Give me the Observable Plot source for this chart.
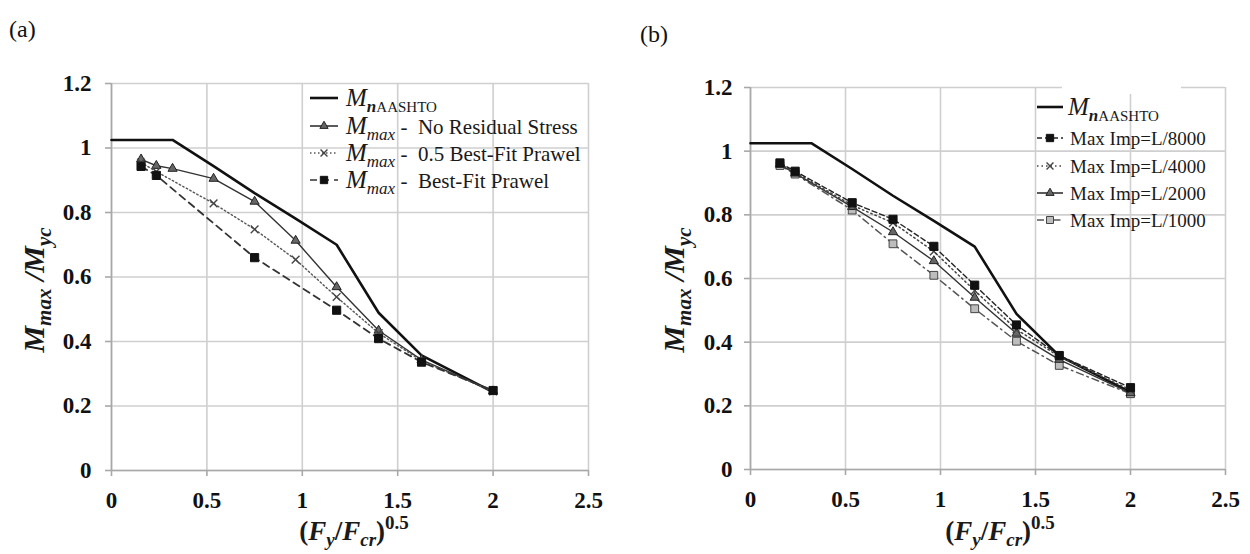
<!DOCTYPE html>
<html><head><meta charset="utf-8">
<script src="https://cdn.jsdelivr.net/npm/d3@7"></script>
<script src="https://cdn.jsdelivr.net/npm/@observablehq/plot@0.6"></script>
<style>
body{margin:0;background:#fff;}
#wrap{position:relative;width:1250px;height:554px;overflow:hidden;background:#fff;}
#wrap svg{position:absolute;top:0;}
</style></head><body><div id="wrap"></div>
<script>
// ---------- data ----------
const xTicks = [0, 0.5, 1, 1.5, 2, 2.5];
const xTickLabels = ["0", "0.5", "1", "1.5", "2", "2.5"];
const yTicks = [0, 0.2, 0.4, 0.6, 0.8, 1, 1.2];
const yTickLabels = ["0", "0.2", "0.4", "0.6", "0.8", "1", "1.2"];

const aashtoX = [0, 0.32, 0.535, 0.75, 0.965, 1.18, 1.4, 1.625, 2.0];
const aashtoY = [1.025, 1.025, 0.944, 0.86, 0.781, 0.70, 0.489, 0.357, 0.243];

// panel (a)
const noResidualX = [0.155, 0.235, 0.32, 0.535, 0.75, 0.965, 1.18, 1.4, 1.625, 2.0];
const noResidualY = [0.965, 0.945, 0.936, 0.905, 0.834, 0.713, 0.569, 0.434, 0.343, 0.246];
const halfBFPX = [0.155, 0.235, 0.535, 0.75, 0.965, 1.18, 1.4, 1.625, 2.0];
const halfBFPY = [0.955, 0.927, 0.828, 0.748, 0.654, 0.538, 0.426, 0.34, 0.245];
const bfpX = [0.155, 0.235, 0.75, 1.18, 1.4, 1.625, 2.0];
const bfpY = [0.943, 0.915, 0.66, 0.497, 0.409, 0.336, 0.248];

// panel (b)
const impX = [0.155, 0.235, 0.535, 0.75, 0.965, 1.18, 1.4, 1.625, 2.0];
const imp8000 = [0.963, 0.937, 0.838, 0.786, 0.701, 0.579, 0.454, 0.358, 0.257];
const imp4000 = [0.960, 0.933, 0.830, 0.775, 0.685, 0.562, 0.440, 0.355, 0.250];
const imp2000 = [0.958, 0.930, 0.825, 0.746, 0.655, 0.540, 0.427, 0.345, 0.240];
const imp1000 = [0.955, 0.928, 0.815, 0.709, 0.610, 0.505, 0.403, 0.327, 0.238];

const FONT = "'Liberation Serif','Times New Roman',Times,serif";

function table(xs, ys) { return xs.map((x, i) => ({x, y: ys[i]})); }

// series styles
const S = {
  aashto: {stroke: "#111", strokeWidth: 2.6},
  noRes: {stroke: "#333", strokeWidth: 1.4, symbol: "triangle", r: 3.4, fill: "#666", dstroke: "#222"},
  half: {stroke: "#555", strokeWidth: 1.4, dash: "1.5,2.5", symbol: "times", r: 3.6, fill: "none", dstroke: "#444"},
  bfp: {stroke: "#333", strokeWidth: 1.8, dash: "7,5", symbol: "square", r: 4.6, fill: "#111", dstroke: "#111"},
  i8000: {stroke: "#222", strokeWidth: 1.4, dash: "5,3", symbol: "square", r: 4.6, fill: "#111", dstroke: "#111"},
  i4000: {stroke: "#444", strokeWidth: 1.5, dash: "1.5,3", symbol: "times", r: 3.6, fill: "none", dstroke: "#444"},
  i2000: {stroke: "#333", strokeWidth: 1.4, symbol: "triangle", r: 3.4, fill: "#666", dstroke: "#222"},
  i1000: {stroke: "#555", strokeWidth: 1.5, dash: "7,4,1.5,4", symbol: "square", r: 4.4, fill: "#bdbdbd", dstroke: "#444"}
};

function seriesMarks(data, st) {
  const m = [Plot.line(data, {x: "x", y: "y", stroke: st.stroke, strokeWidth: st.strokeWidth,
    strokeDasharray: st.dash || null, curve: "linear"})];
  if (st.symbol) m.push(Plot.dot(data, {x: "x", y: "y", symbol: st.symbol, r: st.r,
    fill: st.fill, stroke: st.dstroke, strokeWidth: st.symbol === "times" ? 1.4 : 1}));
  return m;
}

function panel(m, series) {
  return Plot.plot({
    width: 625, height: 554,
    marginLeft: m.l, marginRight: m.r, marginTop: m.t, marginBottom: m.b,
    x: {domain: [0, 2.5]},
    y: {domain: [0, 1.2]},
    style: {fontFamily: FONT, background: "transparent", overflow: "visible"},
    marks: [
      Plot.gridX(xTicks, {stroke: "#cfcfcf", strokeOpacity: 1, strokeWidth: 1.6}),
      Plot.gridY(yTicks, {stroke: "#cfcfcf", strokeOpacity: 1, strokeWidth: 1.6}),
      Plot.ruleX([0], {stroke: "#a8a8a8", strokeWidth: 1.6}),
      Plot.ruleY([0], {stroke: "#a8a8a8", strokeWidth: 1.6}),
      Plot.axisX(xTicks, {tickSize: 6, tickPadding: 15, stroke: "#a8a8a8", strokeWidth: 1.6,
        tickFormat: d => xTickLabels[xTicks.indexOf(d)], label: null,
        fontSize: 23, fontWeight: "bold", fill: "#111", fontFamily: FONT}),
      Plot.axisY(yTicks, {tickSize: 6, tickPadding: m.yPad, stroke: "#a8a8a8", strokeWidth: 1.6,
        tickFormat: d => yTickLabels[yTicks.indexOf(d)], label: null,
        fontSize: 23, fontWeight: "bold", fill: "#111", fontFamily: FONT}),
      ...series
    ]
  });
}

// rich text helper
function rich(g, x, y, parts, opts = {}) {
  const t = g.append("text").attr("x", x).attr("y", y)
    .attr("font-family", FONT).attr("fill", opts.fill || "#1a1a1a")
    .attr("text-anchor", opts.anchor || "start");
  if (opts.transform) t.attr("transform", opts.transform);
  t.attr("font-weight", opts.weight || "normal");
  let shift = 0;
  for (const p of parts) {
    const s = t.append("tspan").text(p.t).attr("font-size", p.size)
      .attr("xml:space", "preserve");
    if (p.italic) s.attr("font-style", "italic");
    if (p.weight) s.attr("font-weight", p.weight);
    const want = p.dy || 0;
    if (want !== shift) { s.attr("dy", want - shift); shift = want; }
  }
  return t;
}

function symbolPath(sym, r) {
  const map = {triangle: d3.symbolTriangle, times: d3.symbolTimes, square: d3.symbolSquare};
  return d3.symbol(map[sym], Math.PI * r * r)();
}

function legendRow(g, x0, x1, y, st) {
  g.append("line").attr("x1", x0).attr("x2", x1).attr("y1", y).attr("y2", y)
    .attr("stroke", st.stroke).attr("stroke-width", st.strokeWidth === 2.6 ? 2.6 : 1.6)
    .attr("stroke-dasharray", st.dash || null);
  if (st.symbol) g.append("path").attr("d", symbolPath(st.symbol, st.r * 0.9))
    .attr("transform", `translate(${(x0 + x1) / 2},${y})`)
    .attr("fill", st.fill).attr("stroke", st.dstroke)
    .attr("stroke-width", st.symbol === "times" ? 1.4 : 1);
}

const Mparts = (sub) => [{t: "M", size: 25, italic: true}, {t: sub, size: 17, italic: true, dy: 6}];
const xTitle = [{t: "(", size: 27}, {t: "F", size: 27, italic: true}, {t: "y", size: 19, italic: true, dy: 6},
  {t: "/", size: 27, dy: 0}, {t: "F", size: 27, italic: true}, {t: "cr", size: 19, italic: true, dy: 6},
  {t: ")", size: 27, dy: 0}, {t: "0.5", size: 19, dy: -11}];
const yTitle = [{t: "M", size: 30, italic: true}, {t: "max", size: 21, italic: true, dy: 7},
  {t: " /", size: 30, italic: true, dy: 0}, {t: "M", size: 30, italic: true}, {t: "yc", size: 21, italic: true, dy: 7}];

// ---------- panel (a) ----------
const A = panel({l: 111, r: 37, t: 83, b: 84, yPad: 14}, [
  ...seriesMarks(table(aashtoX, aashtoY), S.aashto),
  ...seriesMarks(table(noResidualX, noResidualY), S.noRes),
  ...seriesMarks(table(halfBFPX, halfBFPY), S.half),
  ...seriesMarks(table(bfpX, bfpY), S.bfp)
]);
A.style.left = "0px";
document.getElementById("wrap").appendChild(A);
{
  const g = d3.select(A).append("g").attr("text-anchor", "start");
  const rows = [98, 126, 153, 180];
  legendRow(g, 310, 338, rows[0], S.aashto);
  rich(g, 346, rows[0] + 8, [{t: "M", size: 25, italic: true},
    {t: "n", size: 17, italic: true, weight: "bold", dy: 6}, {t: "AASHTO", size: 15, dy: 6}]);
  const lbl = [[S.noRes, "No Residual Stress"], [S.half, "0.5 Best-Fit Prawel"], [S.bfp, "Best-Fit Prawel"]];
  lbl.forEach(([st, txt], i) => {
    const y = rows[i + 1];
    legendRow(g, 310, 338, y, st);
    rich(g, 346, y + 8, [...Mparts("max"), {t: " -  " + txt, size: 21, dy: 0}]);
  });
  rich(g, 354, 540, xTitle, {anchor: "middle", weight: "bold"});
  rich(g, 0, 0, yTitle, {anchor: "middle", weight: "bold", transform: "translate(44,290) rotate(-90)"});
  rich(g, 9, 37, [{t: "(a)", size: 24}], {fill: "#111"});
}

// ---------- panel (b) ----------
const B = panel({l: 125, r: 25, t: 87, b: 85, yPad: 12}, [
  ...seriesMarks(table(aashtoX, aashtoY), S.aashto),
  ...seriesMarks(table(impX, imp1000), S.i1000),
  ...seriesMarks(table(impX, imp2000), S.i2000),
  ...seriesMarks(table(impX, imp4000), S.i4000),
  ...seriesMarks(table(impX, imp8000), S.i8000)
]);
B.style.left = "625px";
document.getElementById("wrap").appendChild(B);
{
  const g = d3.select(B).append("g").attr("text-anchor", "start");
  g.append("rect").attr("x", 1062 - 625).attr("y", 82).attr("width", 119).attr("height", 12).attr("fill", "#fff");
  const rows = [107, 138, 166, 193, 220];
  const lx0 = 1037 - 625, lx1 = 1063 - 625, tx = 1068 - 625;
  legendRow(g, lx0, lx1, rows[0], S.aashto);
  rich(g, tx, rows[0] + 8, [{t: "M", size: 25, italic: true},
    {t: "n", size: 17, italic: true, weight: "bold", dy: 6}, {t: "AASHTO", size: 15, dy: 6}]);
  const lbl = [[S.i8000, "Max Imp=L/8000"], [S.i4000, "Max Imp=L/4000"], [S.i2000, "Max Imp=L/2000"], [S.i1000, "Max Imp=L/1000"]];
  lbl.forEach(([st, txt], i) => {
    const y = rows[i + 1];
    legendRow(g, lx0, lx1, y, st);
    rich(g, tx + 2, y + 7, [{t: txt, size: 19}]);
  });
  rich(g, 1000 - 625, 540, xTitle, {anchor: "middle", weight: "bold"});
  rich(g, 0, 0, yTitle, {anchor: "middle", weight: "bold", transform: "translate(" + (684 - 625) + ",290) rotate(-90)"});
  rich(g, 640 - 625, 42, [{t: "(b)", size: 24}], {fill: "#111"});
}
</script></body></html>
